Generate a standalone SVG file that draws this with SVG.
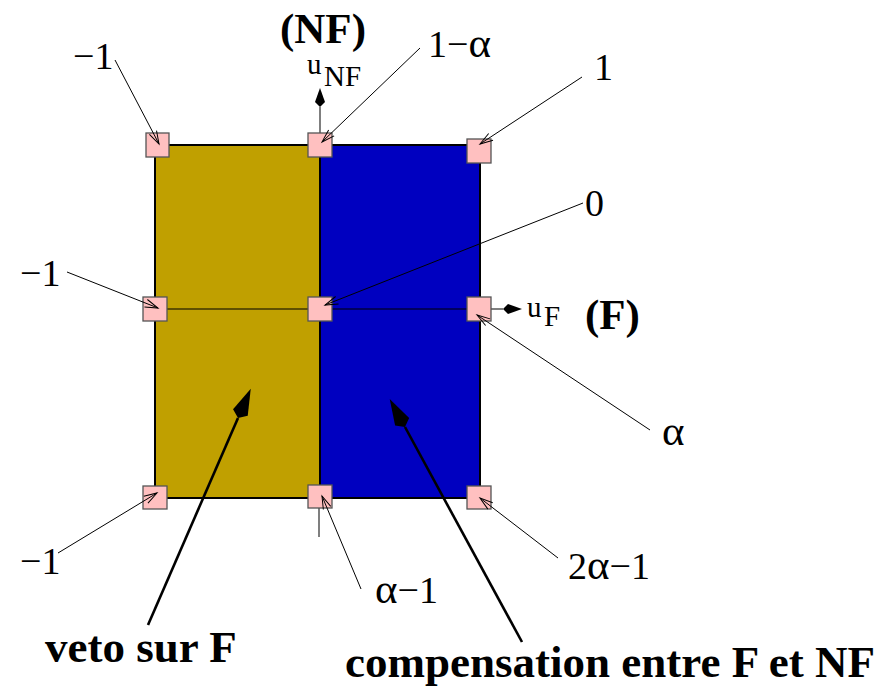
<svg xmlns="http://www.w3.org/2000/svg" width="890" height="688" viewBox="0 0 890 688">
<style>
.lbl{font-family:"Liberation Serif","Times New Roman",serif;font-size:38px;fill:#000}
.a{font-size:43px}
.sub{font-family:"Liberation Serif","Times New Roman",serif;font-size:29px;fill:#000}
.bold{font-family:"Liberation Serif","Times New Roman",serif;font-size:43px;font-weight:bold;fill:#000}
.big{font-family:"Liberation Serif","Times New Roman",serif;font-size:45px;font-weight:bold;fill:#000}
.pt{fill:#FFC0C0;stroke:#555;stroke-width:1.3}
.thin{stroke:#000;stroke-width:1;fill:none}
.thick{stroke:#000;stroke-width:2.6;fill:none}
.axis{stroke:#555;stroke-width:1.5;fill:none}
</style>
<defs>
<marker id="open" markerUnits="userSpaceOnUse" markerWidth="20" markerHeight="12" refX="0" refY="0" viewBox="-14 -6 16 12" orient="auto" overflow="visible">
<path d="M-13,-4 L0,0 L-13,4" fill="none" stroke="#000" stroke-width="1"/>
</marker>
<marker id="kiteBig" markerUnits="userSpaceOnUse" markerWidth="34" markerHeight="18" refX="0" refY="0" viewBox="0 -9 34 18" orient="auto" overflow="visible">
<path d="M32,0 L6,-8 L0,0 L6,8 Z" fill="#000"/>
</marker>
<marker id="kiteSmall" markerUnits="userSpaceOnUse" markerWidth="20" markerHeight="12" refX="0" refY="0" viewBox="0 -6 20 12" orient="auto" overflow="visible">
<path d="M19,0 L5,-5 L0,0 L5,5 Z" fill="#000"/>
</marker>
</defs>

<g id="regions">
<rect id="veto-region" x="155" y="145" width="165" height="353" fill="#C0A000" stroke="#000" stroke-width="2"/>
<rect id="compensation-region" x="320" y="145" width="160" height="353" fill="#0000C0" stroke="#000" stroke-width="2"/>
<line x1="155" y1="309" x2="480" y2="309" stroke="#000" stroke-width="1.2"/>
</g>

<g id="axes">
<line class="axis" x1="320" y1="133" x2="320" y2="107" marker-end="url(#kiteSmall)"/>
<line class="axis" x1="491" y1="309" x2="503" y2="309" marker-end="url(#kiteSmall)"/>
<line class="axis" x1="319" y1="508" x2="319" y2="537"/>
</g>

<g id="p-top-left"><rect class="pt" x="146" y="133" width="23" height="24"/></g>
<g id="p-top-mid"><rect class="pt" x="308" y="133" width="24" height="24"/></g>
<g id="p-top-right"><rect class="pt" x="467" y="139" width="24" height="24"/></g>
<g id="p-mid-left"><rect class="pt" x="143" y="297" width="24" height="24"/></g>
<g id="p-mid-mid"><rect class="pt" x="308" y="297" width="24" height="24"/></g>
<g id="p-mid-right"><rect class="pt" x="467" y="297" width="24" height="24"/></g>
<g id="p-bot-left"><rect class="pt" x="143" y="486" width="24" height="23"/></g>
<g id="p-bot-mid"><rect class="pt" x="308" y="485" width="24" height="23"/></g>
<g id="p-bot-right"><rect class="pt" x="467" y="486" width="24" height="23"/></g>

<g id="connectors">
<line class="thin" x1="115" y1="60" x2="159" y2="144" marker-end="url(#open)"/>
<line class="thin" x1="420" y1="48" x2="322" y2="142" marker-end="url(#open)"/>
<line class="thin" x1="582" y1="77" x2="480" y2="144" marker-end="url(#open)"/>
<line class="thin" x1="583" y1="203" x2="325" y2="305" marker-end="url(#open)"/>
<line class="thin" x1="67" y1="272" x2="158" y2="308" marker-end="url(#open)"/>
<line class="thin" x1="650" y1="430" x2="477" y2="315" marker-end="url(#open)"/>
<line class="thin" x1="58" y1="553" x2="157" y2="493" marker-end="url(#open)"/>
<line class="thin" x1="361" y1="589" x2="322" y2="496" marker-end="url(#open)"/>
<line class="thin" x1="558" y1="558" x2="480" y2="498" marker-end="url(#open)"/>
<line class="thick" x1="148" y1="625" x2="238" y2="418" marker-end="url(#kiteBig)"/>
<line class="thick" x1="522" y1="642" x2="405" y2="427" marker-end="url(#kiteBig)"/>
</g>

<g id="labels">
<text class="bold" x="280" y="43">(NF)</text>
<text class="sub" x="307" y="74">u</text>
<text class="sub" x="324" y="86" font-size="27">NF</text>
<text class="sub" x="527" y="317">u</text>
<text class="sub" x="544" y="326" font-size="27">F</text>
<text class="bold" x="585" y="329">(F)</text>
<text class="lbl" x="73" y="69">−1</text>
<text class="lbl" x="428" y="57">1−<tspan class="a">α</tspan></text>
<text class="lbl" x="594" y="80">1</text>
<text class="lbl" x="585" y="216">0</text>
<text class="lbl" x="20" y="286">−1</text>
<text class="lbl" x="662" y="445"><tspan class="a">α</tspan></text>
<text class="lbl" x="20" y="574">−1</text>
<text class="lbl" x="375" y="603"><tspan class="a">α</tspan>−1</text>
<text class="lbl" x="568" y="579">2<tspan class="a">α</tspan>−1</text>
<text class="big" x="45" y="662">veto sur F</text>
<text class="big" x="345" y="677">compensation entre F et NF</text>
</g>
</svg>
